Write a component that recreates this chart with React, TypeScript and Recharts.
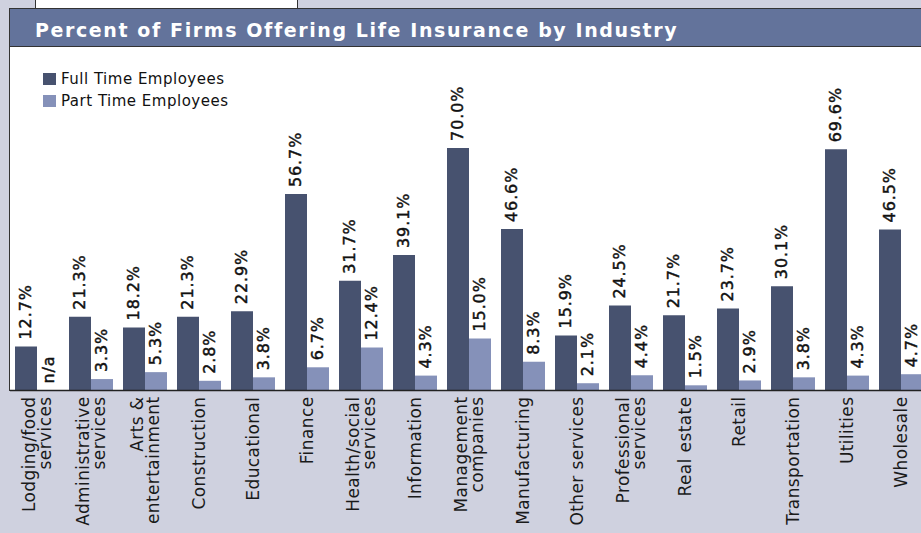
import React from "react";
import { Bar, BarChart, LabelList, Legend, XAxis, YAxis } from "recharts";

const industries = [
  "Lodging/food\nservices",
  "Administrative\nservices",
  "Arts &\nentertainment",
  "Construction",
  "Educational",
  "Finance",
  "Health/social\nservices",
  "Information",
  "Management\ncompanies",
  "Manufacturing",
  "Other services",
  "Professional\nservices",
  "Real estate",
  "Retail",
  "Transportation",
  "Utilities",
  "Wholesale",
];

const fullTime = [12.7, 21.3, 18.2, 21.3, 22.9, 56.7, 31.7, 39.1, 70.0, 46.6, 15.9, 24.5, 21.7, 23.7, 30.1, 69.6, 46.5];
const partTime = [null, 3.3, 5.3, 2.8, 3.8, 6.7, 12.4, 4.3, 15.0, 8.3, 2.1, 4.4, 1.5, 2.9, 3.8, 4.3, 4.7];

const FULL_COLOR = "#47526f";
const PART_COLOR = "#8591b9";
const FONT = "'DejaVu Sans', Verdana, sans-serif";

const data = industries.map((name, i) => ({
  name,
  full: fullTime[i],
  part: partTime[i],
}));

function rotatedValue(key: string, cx: number, bottom: number, text: string) {
  const ty = bottom - 7;
  return (
    <text
      key={key}
      x={cx}
      y={ty}
      transform={`rotate(-90 ${cx} ${ty})`}
      textAnchor="start"
      dominantBaseline="central"
      fontFamily={FONT}
      fontSize={16}
      letterSpacing={0.9}
      fill="#111"
      stroke="#111"
      strokeWidth={0.45}
    >
      {text}
    </text>
  );
}

function ValueLabel(props: any) {
  const { x, y, width, height, value, index } = props;
  if (x == null || y == null || value == null) return null;
  const w = Number(width);
  const out = [rotatedValue("v", Number(x) + w / 2, Number(y), `${Number(value).toFixed(1)}%`)];
  // part-time bar missing for this industry: mark it "n/a" beside the full-time bar
  if (props.markMissing && partTime[index] == null) {
    out.push(rotatedValue("na", Number(x) + w * 1.5, Number(y) + Number(height), "n/a"));
  }
  return <g>{out}</g>;
}

function IndustryTick(props: any) {
  const { x, y, payload } = props;
  const lines = String(payload.value).split("\n");
  const lineGap = 16;
  const offset = ((lines.length - 1) * lineGap) / 2;
  const ty = y - 2;
  return (
    <g>
      {lines.map((line, i) => {
        const lx = x - offset + i * lineGap;
        return (
          <text
            key={i}
            x={lx}
            y={ty}
            transform={`rotate(-90 ${lx} ${ty})`}
            textAnchor="end"
            dominantBaseline="central"
            fontFamily={FONT}
            fontSize={17}
            letterSpacing={0.4}
            fill="#1a1a1a"
          >
            {line}
          </text>
        );
      })}
    </g>
  );
}

function LegendBox() {
  const items = [
    { label: "Full Time Employees", color: FULL_COLOR },
    { label: "Part Time Employees", color: PART_COLOR },
  ];
  return (
    <div style={{ fontFamily: FONT, fontSize: 15, letterSpacing: 0.5, color: "#111" }}>
      {items.map((it) => (
        <div key={it.label} style={{ display: "flex", alignItems: "center", height: 22 }}>
          <span style={{ width: 13, height: 12, background: it.color, marginRight: 5, display: "inline-block" }} />
          {it.label}
        </div>
      ))}
    </div>
  );
}

export default function App() {
  return (
    <div
      style={{
        position: "absolute",
        left: 0,
        top: 0,
        width: 921,
        height: 533,
        overflow: "hidden",
        background: "#cfd1df",
      }}
    >
      {/* tail of the box above, cut by the crop */}
      <div
        style={{
          position: "absolute",
          left: 35,
          top: -2,
          width: 261,
          height: 9,
          background: "#fff",
          border: "1px solid #333",
        }}
      />
      {/* white plot panel */}
      <div
        style={{
          position: "absolute",
          left: 9,
          top: 46,
          width: 940,
          height: 345,
          background: "#fff",
          borderLeft: "1px solid #333",
        }}
      />
      {/* title bar */}
      <div
        style={{
          position: "absolute",
          left: 9,
          top: 8,
          width: 940,
          height: 39,
          background: "#63739b",
          borderTop: "1px solid #333",
          borderBottom: "1px solid #333",
          borderLeft: "1px solid #333",
          color: "#fff",
          fontFamily: FONT,
          fontWeight: "bold",
          fontSize: 19,
          letterSpacing: 1.6,
          lineHeight: "42px",
          paddingLeft: 25,
          boxSizing: "border-box",
          whiteSpace: "nowrap",
        }}
      >
        Percent of Firms Offering Life Insurance by Industry
      </div>
      <div style={{ position: "absolute", left: 0, top: 0 }}>
        <BarChart
          width={940}
          height={533}
          data={data}
          margin={{ top: 44, right: 12, bottom: 0, left: 10 }}
          barCategoryGap={5}
          barGap={0}
        >
          <YAxis hide domain={[0, 100]} />
          <XAxis
            dataKey="name"
            height={142.5}
            interval={0}
            tickLine={false}
            axisLine={{ stroke: "#222", strokeWidth: 1.5 }}
            tick={<IndustryTick />}
          />
          <Legend
            layout="horizontal"
            verticalAlign="middle"
            align="center"
            content={<LegendBox />}
            wrapperStyle={{ left: 43, top: 68, width: 260 }}
          />
          <Bar dataKey="full" name="Full Time Employees" fill={FULL_COLOR} isAnimationActive={false}>
            <LabelList dataKey="full" content={<ValueLabel markMissing />} />
          </Bar>
          <Bar dataKey="part" name="Part Time Employees" fill={PART_COLOR} isAnimationActive={false}>
            <LabelList dataKey="part" content={<ValueLabel />} />
          </Bar>
        </BarChart>
      </div>
    </div>
  );
}
